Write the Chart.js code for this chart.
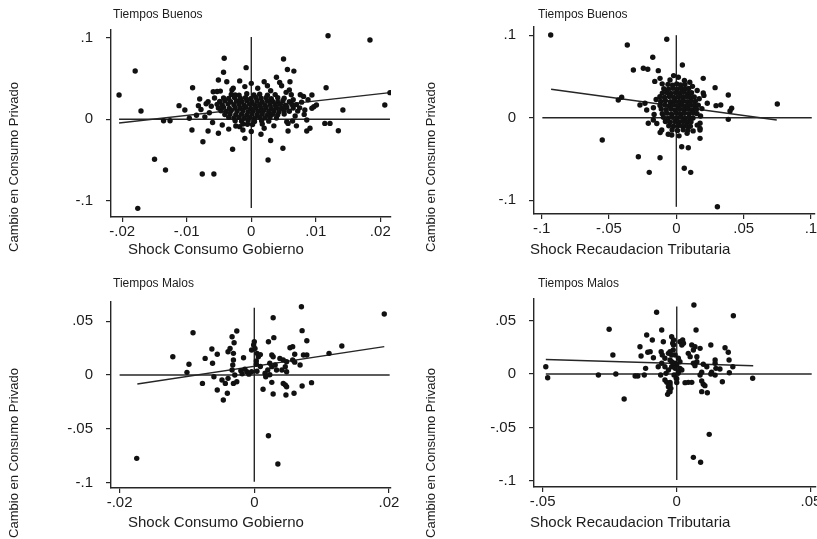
<!DOCTYPE html>
<html>
<head>
<meta charset="utf-8">
<script src="https://cdn.jsdelivr.net/npm/chart.js@4.4.0/dist/chart.umd.min.js"></script>
<style>
  body { margin: 0; background: #fff; overflow: hidden; }
  #wrap { position: relative; width: 817px; height: 539px; overflow: hidden; background: #fff; }
  canvas { position: absolute; }
</style>
</head>
<body>
<div id="wrap">
  <canvas id="p1" width="408" height="270" style="left:0;top:0"></canvas>
  <canvas id="p2" width="420" height="270" style="left:408px;top:0"></canvas>
  <canvas id="p3" width="408" height="269" style="left:0;top:270px"></canvas>
  <canvas id="p4" width="420" height="269" style="left:408px;top:270px"></canvas>
</div>
<script>
// ---- data ----
const yTitle = 'Cambio en Consumo Privado';

// Tiempos Buenos / Shock Consumo Gobierno
const goodGovPts = [
  [-0.0205,0.0297],[-0.0180,0.0591],[-0.0171,0.0102],[-0.0176,-0.109],[-0.0150,-0.049],[-0.0133,-0.062],
  [-0.0136,-0.0017],[-0.0126,-0.0017],[-0.0112,0.0167],[-0.0103,0.0114],[-0.0091,0.0387],[-0.0096,0.0012],
  [-0.0092,-0.0131],[-0.0082,0.0167],[-0.0080,0.0248],[-0.0075,-0.0274],[-0.0076,-0.067],[-0.0058,-0.067],
  [-0.0067,-0.0143],[-0.0067,0.0215],[-0.0059,0.0338],[-0.0053,0.0340],[-0.0048,0.0345],[-0.0051,0.0481],
  [-0.0043,0.0575],[-0.0042,0.0747],[-0.0038,0.046],[-0.0051,-0.0171],[-0.0045,-0.007],[-0.0029,-0.0367],
  [-0.0028,0.038],[-0.0025,0.0297],[-0.0024,-0.0082],[-0.0013,-0.0131],[-0.0010,-0.0233],[-0.0008,0.0632],
  [0.0119,0.1023],[0.0184,0.097],[0.0050,0.0738],[0.0056,0.061],[0.0066,0.059],[0.0039,0.0514],
  [0.0020,0.046],[0.0044,0.045],[0.0047,0.041],[0.0060,0.046],[0.0059,0.036],[0.0116,0.0387],
  [0.0094,0.0297],[0.0076,0.030],[0.0081,0.028],[0.0101,0.0175],[0.0097,0.0155],[0.0094,0.0135],
  [0.0083,0.0114],[0.0142,0.0114],[0.0207,0.0175],[0.0215,0.0326],[0.0086,-0.0009],[0.0114,-0.005],
  [0.0122,-0.005],[0.0135,-0.014],[0.0086,-0.0143],[0.0091,-0.011],[0.0057,-0.0143],[0.0055,-0.003],
  [0.0057,-0.005],[0.0015,-0.0184],[0.0030,-0.026],[0.0049,-0.0355],[0.0026,-0.0498],
  [-0.0085,0.005],[-0.0078,0.012],[-0.0072,0.003],[-0.0065,0.008],[-0.0062,0.016],[-0.0060,-0.004],
  [-0.0057,0.026],[-0.0070,0.019],[0.0065,0.024],[0.0070,0.018],[0.0072,0.010],[0.0068,0.004],
  [0.0075,0.014],[0.0078,0.021],[0.0064,-0.002],[0.0070,-0.008],[0.0082,0.006],[0.0088,0.024],
  [0.0062,0.030],[0.0054,0.033],[-0.003,0.036],[-0.001,0.040],[0.001,0.038],[0.003,0.035],
  [0.0,0.044],[-0.0018,0.047],[0.0025,0.041],[-0.0035,-0.012],[-0.0018,-0.009],[0.0,-0.015],
  [0.002,-0.011],[0.0035,-0.008],[-0.0006,-0.006],
  [-0.0031,0.0305],[-0.0019,0.0296],[-0.0007,0.0312],[0.0004,0.0299],[0.0013,0.0308],[0.0025,0.0294],[0.0037,0.0302],
  [-0.0043,0.0262],[-0.0035,0.0255],[-0.0026,0.0268],[-0.0017,0.0258],[-0.0009,0.0264],[-0.0001,0.0253],
  [0.0007,0.0266],[0.0015,0.0257],[0.0023,0.0263],[0.0031,0.0252],[0.0041,0.0265],[0.0051,0.0258],
  [-0.0049,0.0218],[-0.0041,0.0226],[-0.0032,0.0214],[-0.0023,0.0224],[-0.0015,0.0217],[-0.0007,0.0228],
  [0.0001,0.0215],[0.0009,0.0223],[0.0017,0.0212],[0.0025,0.0225],[0.0033,0.0219],[0.0041,0.0213],
  [0.0049,0.0227],[0.0059,0.0216],
  [-0.0053,0.0183],[-0.0045,0.0176],[-0.0036,0.0187],[-0.0027,0.0178],[-0.0019,0.0184],[-0.0011,0.0173],
  [-0.0003,0.0186],[0.0005,0.0177],[0.0013,0.0182],[0.0021,0.0174],[0.0029,0.0188],[0.0037,0.0179],
  [0.0045,0.0185],[0.0053,0.0172],[0.0063,0.0181],
  [-0.0051,0.0138],[-0.0043,0.0146],[-0.0034,0.0134],[-0.0025,0.0143],[-0.0017,0.0136],[-0.0009,0.0147],
  [-0.0001,0.0133],[0.0007,0.0144],[0.0015,0.0137],[0.0023,0.0145],[0.0031,0.0132],[0.0039,0.0141],
  [0.0047,0.0136],[0.0055,0.0148],[0.0065,0.0139],
  [-0.0047,0.0104],[-0.0039,0.0096],[-0.0031,0.0107],[-0.0022,0.0098],[-0.0013,0.0105],[-0.0005,0.0094],
  [0.0003,0.0103],[0.0011,0.0097],[0.0019,0.0106],[0.0027,0.0095],[0.0035,0.0102],[0.0043,0.0093],
  [0.0051,0.0104],[0.0059,0.0098],
  [-0.0041,0.0058],[-0.0033,0.0066],[-0.0024,0.0055],[-0.0015,0.0063],[-0.0007,0.0054],[0.0001,0.0065],
  [0.0009,0.0057],[0.0017,0.0064],[0.0025,0.0053],[0.0033,0.0062],[0.0041,0.0056],[0.0051,0.0064],
  [-0.0035,0.0024],[-0.0027,0.0016],[-0.0019,0.0025],[-0.0011,0.0013],[-0.0003,0.0022],[0.0005,0.0014],
  [0.0013,0.0026],[0.0021,0.0017],[0.0029,0.0023],[0.0039,0.0015],
  [-0.0025,-0.0017],[-0.0015,-0.0024],[-0.0005,-0.0015],[0.0005,-0.0026],[0.0016,-0.0018],[0.0027,-0.0023],
  [-0.0013,-0.0058],[0.0002,-0.0064],[0.0017,-0.0057]
];
const goodGovFit = [[-0.0205,-0.0045],[0.0215,0.0326]];
const goodGovZeroH = [[-0.0205,0],[0.0215,0]];
const goodGovZeroV = [[0,-0.1086],[0,0.1007]];

// Tiempos Buenos / Shock Recaudacion Tributaria
const goodTaxPts = [
  [-0.0933,0.1002],[-0.0364,0.0881],[-0.0071,0.095],[-0.0175,0.0732],[-0.0319,0.0578],[-0.0245,0.0599],
  [-0.0212,0.0587],[-0.0134,0.057],[-0.0121,0.0477],[-0.0431,0.0215],[-0.0406,0.0247],[-0.055,-0.027],
  [-0.0282,-0.0473],[-0.0121,-0.0485],[-0.0201,-0.0662],[-0.027,0.0154],[-0.0233,0.0175],[-0.022,0.0093],
  [-0.0208,-0.0068],[-0.0171,-0.0028],[-0.0108,-0.0149],[-0.0034,-0.021],[-0.0047,0.0457],
  [0.0045,0.0639],[0.020,0.0477],[0.0288,0.0364],[0.0386,0.0275],[0.075,0.0166],[0.023,0.0175],
  [0.0295,0.0146],[0.033,0.0154],[0.0411,0.0114],[0.0399,0.0081],[0.0386,-0.002],[0.0176,-0.0068],
  [0.0176,-0.0129],[0.0176,-0.0149],[0.0176,-0.025],[0.004,-0.0352],[0.0089,-0.0364],[0.0059,-0.0613],
  [0.0107,-0.0662],[0.0305,-0.1079],[0.020,0.030],[0.0205,0.027],
  [-0.016,0.044],[-0.0105,0.041],[-0.002,0.051],[0.0015,0.049],[0.006,0.045],[0.010,0.043],
  [-0.015,0.022],[-0.017,0.012],[-0.0165,0.004],[-0.0145,-0.007],[-0.012,-0.018],[-0.006,-0.02],
  [0.002,-0.022],[0.008,-0.019],[0.0125,-0.016],[0.0155,-0.009],[0.018,0.002],[0.019,0.011],
  [0.017,0.023],[0.0155,0.033],[0.012,0.038],
  [-0.0062,0.0404],[-0.0028,0.0395],[0.0003,0.0408],[0.0031,0.0397],[0.0064,0.0402],
  [-0.0093,0.0352],[-0.0058,0.0346],[-0.0026,0.0357],[0.0006,0.0344],[0.0037,0.0355],[0.0066,0.0348],[0.0092,0.0353],
  [-0.0104,0.0298],[-0.0072,0.0305],[-0.0039,0.0293],[-0.0006,0.0304],[0.0026,0.0296],[0.0054,0.0307],
  [0.0087,0.0295],[0.0113,0.0302],
  [-0.0122,0.0253],[-0.0087,0.0246],[-0.0052,0.0257],[-0.0019,0.0244],[0.0014,0.0255],[0.0046,0.0248],
  [0.0076,0.0256],[0.0104,0.0245],[0.0133,0.0252],
  [-0.0116,0.0197],[-0.0081,0.0205],[-0.0044,0.0194],[-0.0013,0.0203],[0.0021,0.0196],[0.0052,0.0206],
  [0.0081,0.0195],[0.0109,0.0204],[0.0141,0.0198],
  [-0.0121,0.0148],[-0.0086,0.0155],[-0.0054,0.0144],[-0.0021,0.0153],[0.0011,0.0146],[0.0044,0.0156],
  [0.0076,0.0145],[0.0106,0.0154],[0.0134,0.0147],[0.0163,0.0152],
  [-0.0112,0.0104],[-0.0076,0.0096],[-0.0041,0.0105],[-0.0009,0.0094],[0.0024,0.0103],[0.0056,0.0097],
  [0.0086,0.0106],[0.0116,0.0095],[0.0149,0.0102],
  [-0.0104,0.0047],[-0.0071,0.0055],[-0.0036,0.0046],[0.0001,0.0054],[0.0031,0.0045],[0.0061,0.0053],
  [0.0094,0.0048],[0.0126,0.0056],[0.0154,0.0049],
  [-0.0096,0.0004],[-0.0061,-0.0005],[-0.0029,0.0006],[0.0006,-0.0004],[0.0036,0.0005],[0.0066,-0.0006],
  [0.0096,0.0003],[0.0124,-0.0003],
  [-0.0081,-0.0046],[-0.0046,-0.0055],[-0.0011,-0.0047],[0.0021,-0.0054],[0.0051,-0.0045],[0.0079,-0.0053],[0.0109,-0.0048],
  [-0.0056,-0.0097],[-0.0021,-0.0104],[0.0016,-0.0096],[0.0046,-0.0105],[0.0074,-0.0098],[0.0104,-0.0103],
  [-0.0031,-0.0148],[0.0009,-0.0154],[0.0051,-0.0147],[0.0086,-0.0152]
];
const goodTaxFit = [[-0.093,0.0344],[0.0746,-0.0028]];
const goodTaxZeroH = [[-0.0995,0],[0.1006,0]];
const goodTaxZeroV = [[0,-0.108],[0,0.1]];

// Tiempos Malos / Shock Consumo Gobierno
const badGovPts = [
  [-0.01746,-0.0776],[-0.0121,0.017],[-0.0091,0.0394],[-0.0097,0.010],[-0.0100,0.0025],[-0.0077,-0.0078],
  [-0.0073,0.0155],[-0.0063,0.0242],[-0.0055,0.0193],[-0.0062,0.0109],[-0.0060,-0.0016],[-0.0055,-0.014],
  [-0.0046,-0.0233],[-0.0040,-0.017],[-0.0048,-0.0047],[-0.0043,-0.0078],[-0.0039,-0.0031],[-0.0026,0.041],
  [-0.0033,0.0357],[-0.0030,0.0301],[-0.0036,0.0248],[-0.0039,0.0217],[-0.0031,0.0202],[-0.0031,0.014],
  [-0.0032,0.0093],[-0.0033,0.0047],[-0.0029,0.0],[-0.0031,-0.0078],[-0.0026,-0.0062],[-0.0016,0.0161],
  [-0.0004,0.0233],[-0.0001,0.0279],[0.0,0.031],[-0.0011,0.0031],[-0.0004,0.0031],[-0.0020,0.004],
  [-0.0018,0.0012],[-0.0008,0.0008],[0.0004,0.0035],[-0.0014,0.0055],
  [0.0070,0.0636],[0.0193,0.0568],[0.0028,0.0534],[0.0071,0.0413],[0.0078,0.0319],[0.0029,0.0348],
  [0.0021,0.031],[0.0130,0.027],[0.0111,0.0202],[0.0073,0.0186],[0.0078,0.0186],[0.0053,0.0254],
  [0.0057,0.0264],[0.0060,0.0193],[0.0001,0.0248],[0.0004,0.0202],[0.0006,0.017],[0.0009,0.019],
  [0.0026,0.0186],[0.0028,0.017],[0.0038,0.0155],[0.0043,0.014],[0.0048,0.0124],[0.0057,0.014],
  [0.0060,0.012],[0.0023,0.0109],[0.0026,0.0078],[0.0031,0.0093],[0.0033,0.0047],[0.0020,0.0047],
  [0.0023,0.0003],[0.0016,0.0016],[0.0017,-0.0016],[0.0009,0.008],[0.0041,0.0047],[0.0046,0.0078],
  [0.0048,0.0031],[0.0068,0.0093],[0.0013,-0.0133],[0.0028,-0.0177],[0.0026,-0.0068],[0.0043,-0.0078],
  [0.0046,-0.0093],[0.0048,-0.0109],[0.0047,-0.0186],[0.0059,-0.017],[0.0071,-0.0102],[0.0085,-0.0071],
  [0.0021,-0.0565],[0.0035,-0.0829],[0.0003,0.013],[0.0003,0.010]
];
const badGovFit = [[-0.01737,-0.0084],[0.0193,0.0264]];
const badGovZeroH = [[-0.020,0],[0.0201,0]];
const badGovZeroV = [[0,-0.0993],[0,0.0627]];

// Tiempos Malos / Shock Recaudacion Tributaria
const badTaxPts = [
  [-0.0488,0.0068],[-0.0481,-0.0035],[-0.0292,-0.0009],[-0.0252,0.0418],[-0.0238,0.0178],[-0.0227,0.0],
  [-0.0196,-0.0234],[-0.0155,-0.0019],[-0.0145,-0.0019],[-0.0137,0.0255],[-0.0133,0.0168],[-0.0112,0.0364],
  [-0.0108,0.0203],[-0.0099,0.0209],[-0.0091,0.0318],[-0.0087,0.0152],[-0.0121,-0.0009],[-0.0116,0.0053],
  [-0.0075,0.0577],[-0.0056,0.0411],[-0.0050,0.0302],[-0.0058,0.0208],[-0.0054,0.0178],[-0.0019,0.0349],
  [-0.0015,0.0287],[-0.0044,0.0147],[-0.0031,0.0193],[-0.0025,0.0131],[-0.0013,0.0224],[-0.0006,0.0178],
  [-0.0069,0.0068],[-0.0056,0.010],[-0.0044,0.0068],[-0.0031,0.0037],[-0.0019,0.0068],[-0.0006,0.010],
  [-0.0060,-0.0009],[-0.0040,0.0006],[-0.0010,-0.0009],[0.0005,0.0006],[-0.0044,-0.0056],[-0.0037,-0.0078],
  [-0.0031,-0.0119],[-0.0029,-0.0165],[-0.0034,-0.019],[-0.0022,-0.0134],[-0.0002,-0.004],[0.0,-0.0045],
  [0.0064,0.0645],[0.0211,0.0545],[0.0072,0.0411],[0.0012,0.0302],[0.0022,0.0318],[0.0019,0.0271],
  [0.0025,0.0287],[-0.0012,0.0318],[-0.0012,0.0271],[0.0056,0.0271],[0.0068,0.0255],[0.0062,0.0224],
  [0.0087,0.024],[0.0127,0.0271],[0.018,0.0246],[0.0192,0.0203],[0.0195,0.0131],[0.0143,0.0131],
  [0.0143,0.010],[0.0209,0.0068],[0.0196,0.0012],[0.0043,0.0193],[0.005,0.0162],[0.0075,0.0162],
  [0.0075,0.0115],[0.0062,0.010],[0.0068,0.0078],[0.0099,0.0091],[0.0112,0.0068],[0.0146,0.0053],
  [0.013,0.0016],[0.0161,0.0047],[0.017,-0.0072],[0.0283,-0.004],[0.0031,-0.0081],[0.0043,-0.0078],
  [0.0056,-0.0078],[0.0,-0.008],[-0.0025,-0.008],[0.0087,-0.0009],[0.0093,0.0016],[0.0127,0.0],
  [0.0143,-0.001],[0.0093,-0.0065],[0.0099,-0.0096],[0.0105,-0.0109],[0.0093,-0.0165],[0.0114,-0.0175],
  [0.0121,-0.0564],[0.0062,-0.0779],[0.0089,-0.0825],[0.0006,0.0147],[0.0012,0.0115],[0.0,0.0084],
  [0.0012,0.0053],[0.0019,0.0037],[0.0006,0.0022],[-0.0006,0.0053],[-0.0013,0.010],[-0.0019,0.0178],
  [-0.0025,0.0209],[-0.0019,0.0115],[-0.0025,-0.0103],[-0.0025,-0.0165]
];
const badTaxFit = [[-0.0488,0.0135],[0.0285,0.0077]];
const badTaxZeroH = [[-0.0488,0],[0.0503,0]];
const badTaxZeroV = [[0,-0.099],[0,0.063]];

// tick values and labels
const govXTicksTop = [-0.02, -0.01, 0, 0.01, 0.02];
const govXLabelsTop = ['-.02', '-.01', '0', '.01', '.02'];
const taxXTicksTop = [-0.1, -0.05, 0, 0.05, 0.1];
const taxXLabelsTop = ['-.1', '-.05', '0', '.05', '.1'];
const yTicksTop = [-0.1, 0, 0.1];
const yLabelsTop = ['-.1', '0', '.1'];
const govXTicksBot = [-0.02, 0, 0.02];
const govXLabelsBot = ['-.02', '0', '.02'];
const taxXTicksBot = [-0.05, 0, 0.05];
const taxXLabelsBot = ['-.05', '0', '.05'];
const yTicksBot = [-0.1, -0.05, 0, 0.05];
const yLabelsBot = ['-.1', '-.05', '0', '.05'];

const FONT = '"Liberation Sans", Arial, Helvetica, sans-serif';
const INK = '#1c1c1c';

const toXY = arr => arr.map(p => ({ x: p[0], y: p[1] }));

const panelText = {
  id: 'panelText',
  afterDraw(chart, args, o) {
    const ctx = chart.ctx;
    ctx.save();
    ctx.fillStyle = INK;
    ctx.textBaseline = 'alphabetic';
    ctx.textAlign = 'left';
    ctx.font = '12px ' + FONT;
    ctx.fillText(o.title, o.titleX, o.titleY);
    ctx.font = '15px ' + FONT;
    ctx.fillText(o.xTitle, o.xTitleX, o.xTitleY);
    ctx.translate(o.yTitleX, o.yTitleY);
    ctx.rotate(-Math.PI / 2);
    ctx.textAlign = 'center';
    ctx.textBaseline = 'middle';
    ctx.font = '13px ' + FONT;
    ctx.fillText(yTitle, 0, 0);
    ctx.restore();
  }
};

function makePanel(id, p) {
  const lineDs = (pts, w) => ({
    type: 'scatter', data: toXY(pts), showLine: true, borderColor: '#262626',
    borderWidth: w, pointRadius: 0, fill: false
  });
  new Chart(document.getElementById(id), {
    type: 'scatter',
    data: {
      datasets: [
        { data: toXY(p.pts), pointRadius: 2.7, pointBackgroundColor: '#111', pointBorderWidth: 0 },
        lineDs(p.zeroH, 1.4),
        lineDs(p.zeroV, 1.4),
        lineDs(p.fit, 1.4)
      ]
    },
    options: {
      responsive: false,
      animation: false,
      events: [],
      layout: { padding: { left: 0, right: p.padR, top: p.padT, bottom: 0 } },
      plugins: {
        legend: { display: false },
        tooltip: { enabled: false },
        panelText: p.text
      },
      scales: {
        x: {
          type: 'linear', min: p.xMin, max: p.xMax,
          afterBuildTicks: s => { s.ticks = p.xTicks.map(v => ({ value: v })); },
          afterFit: s => { s.height = p.xH; },
          grid: { drawOnChartArea: false, drawTicks: true, tickLength: 5, color: '#262626', lineWidth: 1.2 },
          border: { display: true, color: '#262626', width: 1.4 },
          ticks: {
            autoSkip: false, maxRotation: 0, padding: 1, color: INK,
            font: { family: FONT, size: 15 },
            callback: (v, i) => p.xLabels[i]
          }
        },
        y: {
          type: 'linear', min: p.yMin, max: p.yMax,
          afterBuildTicks: s => { s.ticks = p.yTicks.map(v => ({ value: v })); },
          afterFit: s => { s.width = p.yW; },
          grid: { drawOnChartArea: false, drawTicks: true, tickLength: 5, color: '#262626', lineWidth: 1.2 },
          border: { display: true, color: '#262626', width: 1.4 },
          ticks: {
            autoSkip: false, padding: 13, color: INK,
            font: { family: FONT, size: 15 },
            callback: (v, i) => p.yLabels[i]
          }
        }
      }
    },
    plugins: [panelText]
  });
}

makePanel('p1', {
  pts: goodGovPts, fit: goodGovFit, zeroH: goodGovZeroH, zeroV: goodGovZeroV,
  xMin: -0.02175, xMax: 0.02166, yMin: -0.1196, yMax: 0.1093,
  xTicks: govXTicksTop, xLabels: govXLabelsTop, yTicks: yTicksTop, yLabels: yLabelsTop,
  padR: 17, padT: 30, xH: 53, yW: 111,
  text: { title: 'Tiempos Buenos', titleX: 113, titleY: 18, xTitle: 'Shock Consumo Gobierno', xTitleX: 128, xTitleY: 254, yTitleX: 14, yTitleY: 167 }
});
makePanel('p2', {
  pts: goodTaxPts, fit: goodTaxFit, zeroH: goodTaxZeroH, zeroV: goodTaxZeroV,
  xMin: -0.1057, xMax: 0.103, yMin: -0.1167, yMax: 0.1099,
  xTicks: taxXTicksTop, xLabels: taxXLabelsTop, yTicks: yTicksTop, yLabels: yLabelsTop,
  padR: 13, padT: 27, xH: 56, yW: 126,
  text: { title: 'Tiempos Buenos', titleX: 130, titleY: 18, xTitle: 'Shock Recaudacion Tributaria', xTitleX: 122, xTitleY: 254, yTitleX: 23, yTitleY: 167 }
});
makePanel('p3', {
  pts: badGovPts, fit: badGovFit, zeroH: badGovZeroH, zeroV: badGovZeroV,
  xMin: -0.02128, xMax: 0.0203, yMin: -0.1052, yMax: 0.068,
  xTicks: govXTicksBot, xLabels: govXLabelsBot, yTicks: yTicksBot, yLabels: yLabelsBot,
  padR: 17, padT: 32, xH: 51, yW: 111,
  text: { title: 'Tiempos Malos', titleX: 113, titleY: 17, xTitle: 'Shock Consumo Gobierno', xTitleX: 128, xTitleY: 257, yTitleX: 14, yTitleY: 183 }
});
makePanel('p4', {
  pts: badTaxPts, fit: badTaxFit, zeroH: badTaxZeroH, zeroV: badTaxZeroV,
  xMin: -0.0532, xMax: 0.0519, yMin: -0.1056, yMax: 0.0701,
  xTicks: taxXTicksBot, xLabels: taxXLabelsBot, yTicks: yTicksBot, yLabels: yLabelsBot,
  padR: 12, padT: 29, xH: 52, yW: 126,
  text: { title: 'Tiempos Malos', titleX: 130, titleY: 17, xTitle: 'Shock Recaudacion Tributaria', xTitleX: 122, xTitleY: 257, yTitleX: 23, yTitleY: 183 }
});
</script>
</body>
</html>
